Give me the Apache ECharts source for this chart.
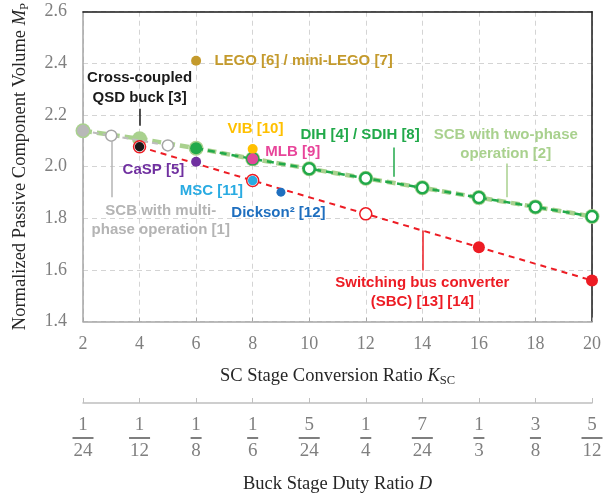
<!DOCTYPE html>
<html><head><meta charset="utf-8">
<script src="https://cdn.jsdelivr.net/npm/echarts@6/dist/echarts.min.js"></script>
<style>html,body{margin:0;padding:0;background:#fff}#c{width:614px;height:500px}</style>
</head><body><div id="c"></div>
<script>
// ---- data ----
const kscTicks = [2,4,6,8,10,12,14,16,18,20];
const dutyNum = ['1','1','1','1','5','1','7','1','3','5'];
const dutyDen = ['24','12','8','6','24','4','24','3','8','12'];
const yTicks = [1.4,1.6,1.8,2.0,2.2,2.4,2.6];

const scbTwoPhaseX = [2,4,6,8,10,12,14,16,18,20];
const scbTwoPhaseY = [2.139,2.108,2.071,2.030,1.992,1.955,1.918,1.880,1.844,1.807];
const dihX = [6,8,10,12,14,16,18,20];
const dihY = [2.071,2.030,1.992,1.955,1.918,1.880,1.844,1.807];
const scbMultiX = [2,3,5];
const scbMultiY = [2.139,2.120,2.082];
const sbcX = [4,8,12,16,20];
const sbcY = [2.077,1.946,1.817,1.688,1.559];
const qsdPt = [4, 2.077];
const legoPt = [6, 2.41];
const vibPt = [8, 2.068];
const mlbPt = [8, 2.030];
const caspPt = [6, 2.019];
const mscPt = [8, 1.946];
const dicksonPt = [9, 1.901];

// ---- annotation placement (data units) ----
const annotations = [
  {text:'LEGO [6] / mini-LEGO [7]', x:9.8, y:2.41, color:'#C49A2C'},
  {text:'Cross-coupled\nQSD buck [3]', x:4.0, y:2.305, color:'#1A1A1A'},
  {text:'VIB [10]', x:8.1, y:2.147, color:'#FFC000'},
  {text:'MLB [9]', x:9.42, y:2.058, color:'#E8459A'},
  {text:'CaSP [5]', x:4.49, y:1.987, color:'#7030A0'},
  {text:'MSC [11]', x:6.54, y:1.907, color:'#29ABE2'},
  {text:'Dickson² [12]', x:8.91, y:1.822, color:'#1F6FBF'},
  {text:'SCB with multi-\nphase operation [1]', x:4.75, y:1.791, color:'#B4B4B4'},
  {text:'DIH [4] / SDIH [8]', x:11.8, y:2.123, color:'#21A94A'},
  {text:'SCB with two-phase\noperation [2]', x:16.95, y:2.086, color:'#A9D18E'},
  {text:'Switching bus converter\n(SBC) [13] [14]', x:14, y:1.513, color:'#ED1C24'}
];
const leaders = [
  {x:4, y1:2.224, y2:2.158, color:'#1A1A1A'},
  {x:3, y1:2.100, y2:1.881, color:'#B4B4B4'},
  {x:13, y1:2.074, y2:1.961, color:'#21A94A'},
  {x:17, y1:2.012, y2:1.881, color:'#A9D18E'},
  {x:14, y1:1.753, y2:1.598, color:'#ED1C24'}
];

const zip = (xs, ys) => xs.map((x,i)=>[x, ys[i]]);
const SERIF = '"Liberation Serif","Times New Roman",serif';
const SANS = '"Liberation Sans",Arial,sans-serif';
const GREY = '#7F7F7F';
const RED = '#ED1C24', DG = '#21A94A', LG = '#A9D18E', GR = '#BDBDBD';

const chart = echarts.init(document.getElementById('c'), null, {renderer:'canvas'});

const ptStyle = (pt, color, size, border) => ({
  type:'scatter', data:[pt], symbolSize:size, z:6,
  itemStyle:{color:color, borderColor: border || color, borderWidth: border ? 1.5 : 0, opacity:1}
});

const option = {
  animation:false,
  grid:{left:83, right:22, top:11, bottom:178.5, containLabel:false},
  xAxis:[
    {type:'value', min:2, max:20, interval:2, position:'bottom',
     axisLine:{show:true, onZero:false, lineStyle:{color:'#A6A6A6', width:1.5}},
     axisTick:{show:true, inside:true, length:4, lineStyle:{color:'#A6A6A6'}},
     axisLabel:{fontFamily:SERIF, fontSize:18, color:GREY, margin:14},
     splitLine:{show:true, lineStyle:{color:'#D4D4D4', type:[5,4], width:1}},
     name:'{a|SC Stage Conversion Ratio }{i|K}{s|SC}', nameLocation:'middle', nameGap:44,
     nameTextStyle:{rich:{
       a:{fontFamily:SERIF, fontSize:18.5, color:'#262626'},
       i:{fontFamily:SERIF, fontSize:18.5, color:'#262626', fontStyle:'italic'},
       s:{fontFamily:SERIF, fontSize:12.5, color:'#262626', padding:[9,0,0,0]}
     }}},
    {type:'value', min:2, max:20, interval:2, position:'bottom', offset:81.5,
     axisLine:{show:true, onZero:false, lineStyle:{color:'#BFBFBF', width:1.5}},
     axisTick:{show:true, inside:true, length:5, lineStyle:{color:'#BFBFBF'}},
     splitLine:{show:false},
     axisLabel:{margin:12, formatter:function(v){
        const i = kscTicks.indexOf(Math.round(v));
        if(i<0) return '';
        return '{n|'+dutyNum[i]+'}\n{'+(dutyDen[i].length>1?'b2':'b1')+'| }\n{d|'+dutyDen[i]+'}';
      }, rich:{
        n:{fontFamily:SERIF, fontSize:19, color:GREY, lineHeight:20},
        d:{fontFamily:SERIF, fontSize:19, color:GREY, lineHeight:20},
        b1:{width:11, height:2, lineHeight:6, fontSize:2, backgroundColor:GREY},
        b2:{width:21, height:2, lineHeight:6, fontSize:2, backgroundColor:GREY}
      }},
     name:'{a|Buck Stage Duty Ratio }{i|D}', nameLocation:'middle', nameGap:72,
     nameTextStyle:{rich:{
       a:{fontFamily:SERIF, fontSize:18.5, color:'#262626'},
       i:{fontFamily:SERIF, fontSize:18.5, color:'#262626', fontStyle:'italic'}
     }}},
    {type:'value', min:2, max:20, interval:2, position:'top',
     axisLine:{show:true, onZero:false, lineStyle:{color:'#1A1A1A', width:1.5}},
     axisTick:{show:false}, axisLabel:{show:false}, splitLine:{show:false}}
  ],
  yAxis:[
    {type:'value', min:1.4, max:2.6, interval:0.2, position:'left',
     axisLine:{show:true, onZero:false, lineStyle:{color:'#A6A6A6', width:1.5}},
     axisTick:{show:false},
     axisLabel:{fontFamily:SERIF, fontSize:18, color:GREY, margin:16,
       formatter:v=>v.toFixed(1)},
     splitLine:{show:true, lineStyle:{color:'#D4D4D4', type:[5,4], width:1}},
     name:'{a|Normalized Passive Component Volume }{i|M}{s|P}', nameLocation:'middle', nameGap:52, nameRotate:90,
     nameTextStyle:{rich:{
       a:{fontFamily:SERIF, fontSize:18.5, color:'#262626'},
       i:{fontFamily:SERIF, fontSize:18.5, color:'#262626', fontStyle:'italic'},
       s:{fontFamily:SERIF, fontSize:12.5, color:'#262626', padding:[9,0,0,0]}
     }}},
    {type:'value', min:1.4, max:2.6, interval:0.2, position:'right',
     axisLine:{show:true, onZero:false, lineStyle:{color:'#1A1A1A', width:1.5}},
     axisTick:{show:false}, axisLabel:{show:false}, splitLine:{show:false}}
  ],
  series:[
    {name:'SCB two-phase [2]', type:'line', data:zip(scbTwoPhaseX, scbTwoPhaseY), z:2,
     symbol:'circle', symbolSize:15, itemStyle:{color:LG},
     lineStyle:{color:LG, width:4.5, type:[9,5]}},
    {name:'SCB multi-phase [1]', type:'line', data:zip(scbMultiX, scbMultiY).map((p,i)=> i===0 ?
       {value:p, symbolSize:11, itemStyle:{color:'#B8B8B8', borderColor:'#B8B8B8'}} :
       {value:p, symbolSize:11, itemStyle:{color:'#fff', borderColor:'#A6A6A6', borderWidth:1.5}}), z:3,
     symbol:'circle', lineStyle:{color:GR, width:2, type:[6,4]}},
    {name:'DIH / SDIH', type:'line', data:zip(dihX, dihY).map((p,i)=> i===0 ?
       {value:p, symbolSize:12, itemStyle:{color:DG, borderColor:DG, borderWidth:0}} :
       {value:p, symbolSize:11, itemStyle:{color:'#fff', borderColor:DG, borderWidth:2.5}}), z:4,
     symbol:'circle', lineStyle:{color:DG, width:2.5, type:[7,5]}},
    {name:'SBC', type:'line', data:zip(sbcX, sbcY).map((p,i)=> i>=3 ?
       {value:p, symbolSize:12, itemStyle:{color:RED, borderColor:RED, borderWidth:0}} :
       {value:p, symbolSize:12, itemStyle:{color:'#fff', borderColor:RED, borderWidth:1.5}}), z:4,
     symbol:'circle', lineStyle:{color:RED, width:2, type:[6,5]}},
    ptStyle(qsdPt, '#1A1A1A', 9.5),
    ptStyle(mscPt, '#29ABE2', 9.5),
    ptStyle(legoPt, '#C49A2C', 10),
    ptStyle(vibPt, '#FFC000', 10),
    ptStyle(mlbPt, '#E0489A', 11),
    ptStyle(caspPt, '#7030A0', 10),
    ptStyle(dicksonPt, '#1F6FBF', 9),
    {name:'annotations', type:'scatter', symbolSize:0, z:7, silent:true,
     itemStyle:{opacity:1},
     data: annotations.map(a=>({value:[a.x, a.y], label:{show:true, position:'inside',
       formatter:a.text, color:a.color, opacity:1, fontFamily:SANS, fontWeight:'bold', fontSize:15,
       lineHeight:19.5, align:'center', verticalAlign:'middle'}})),
     markLine:{silent:true, symbol:'none', label:{show:false}, animation:false,
       data: leaders.map(l=>[{coord:[l.x, l.y1], lineStyle:{color:l.color, width:1.5, type:'solid', opacity:1}},
                             {coord:[l.x, l.y2]}])}}
  ]
};
chart.setOption(option);
</script></body></html>
